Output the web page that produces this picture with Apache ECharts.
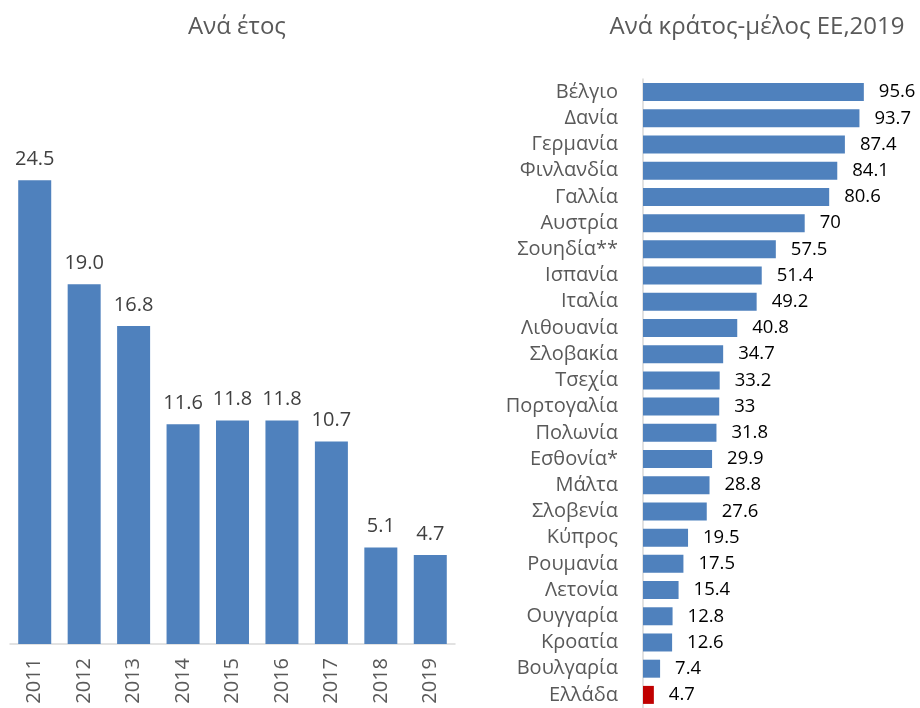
<!DOCTYPE html>
<html>
<head>
<meta charset="utf-8">
<script src="https://cdn.jsdelivr.net/npm/echarts@6/dist/echarts.min.js"></script>
<style>
  html, body { margin: 0; padding: 0; background: #fff; }
  #main { width: 920px; height: 708px; }
</style>
</head>
<body>
<div id="main"></div>
<script>
var years = ['2011', '2012', '2013', '2014', '2015', '2016', '2017', '2018', '2019'];
var yearValues = [24.5, 19.0, 16.8, 11.6, 11.8, 11.8, 10.7, 5.1, 4.7];

var countries = ['Βέλγιο', 'Δανία', 'Γερμανία', 'Φινλανδία', 'Γαλλία', 'Αυστρία', 'Σουηδία**',
  'Ισπανία', 'Ιταλία', 'Λιθουανία', 'Σλοβακία', 'Τσεχία', 'Πορτογαλία', 'Πολωνία', 'Εσθονία*',
  'Μάλτα', 'Σλοβενία', 'Κύπρος', 'Ρουμανία', 'Λετονία', 'Ουγγαρία', 'Κροατία', 'Βουλγαρία', 'Ελλάδα'];
var countryValues = [95.6, 93.7, 87.4, 84.1, 80.6, 70, 57.5, 51.4, 49.2, 40.8, 34.7, 33.2, 33,
  31.8, 29.9, 28.8, 27.6, 19.5, 17.5, 15.4, 12.8, 12.6, 7.4, 4.7];

var font = '"Open Sans", "Noto Sans", sans-serif';
var blue = '#4F81BD';
var red = '#C00000';

var myChart = echarts.init(document.getElementById('main'));

var option = {
  animation: false,
  textStyle: { fontFamily: font },
  title: [
    {
      text: 'Ανά έτος',
      left: 232,
      top: 10,
      textAlign: 'center',
      textStyle: { color: '#595959', fontSize: 24, fontWeight: 'normal', fontFamily: font }
    },
    {
      text: 'Ανά κράτος-μέλος ΕΕ,2019',
      left: 752,
      top: 10,
      textAlign: 'center',
      textStyle: { color: '#595959', fontSize: 24, fontWeight: 'normal', fontFamily: font }
    }
  ],
  grid: [
    { left: 10, width: 445, top: 76, height: 568 },
    { left: 643, width: 231, top: 79, height: 631 }
  ],
  xAxis: [
    {
      gridIndex: 0,
      type: 'category',
      data: years,
      axisLine: { lineStyle: { color: '#d9d9d9', width: 1.5 } },
      axisTick: { show: false },
      axisLabel: {
        rotate: 90,
        color: '#595959',
        fontSize: 20,
        fontFamily: font,
        margin: 14
      }
    },
    {
      gridIndex: 1,
      type: 'value',
      min: 0,
      max: 100,
      show: false
    }
  ],
  yAxis: [
    {
      gridIndex: 0,
      type: 'value',
      min: 0,
      max: 30,
      show: false
    },
    {
      gridIndex: 1,
      type: 'category',
      data: countries,
      inverse: true,
      axisLine: { lineStyle: { color: '#d9d9d9', width: 1.5 } },
      axisTick: { show: false },
      axisLabel: {
        color: '#595959',
        fontSize: 20,
        fontFamily: font,
        margin: 25
      }
    }
  ],
  series: [
    {
      type: 'bar',
      xAxisIndex: 0,
      yAxisIndex: 0,
      data: yearValues,
      barWidth: 33,
      itemStyle: { color: blue },
      label: {
        show: true,
        position: 'top',
        distance: 11,
        color: '#404040',
        fontSize: 20,
        fontFamily: font,
        formatter: function (p) { return p.value.toFixed(1); }
      }
    },
    {
      type: 'bar',
      xAxisIndex: 1,
      yAxisIndex: 1,
      data: countryValues.map(function (v, i) {
        return countries[i] === 'Ελλάδα' ? { value: v, itemStyle: { color: red } } : v;
      }),
      barWidth: 18,
      itemStyle: { color: blue },
      label: {
        show: true,
        position: 'right',
        distance: 15,
        color: '#000',
        fontSize: 18.5,
        fontFamily: font
      }
    }
  ]
};

myChart.setOption(option);
</script>
</body>
</html>
